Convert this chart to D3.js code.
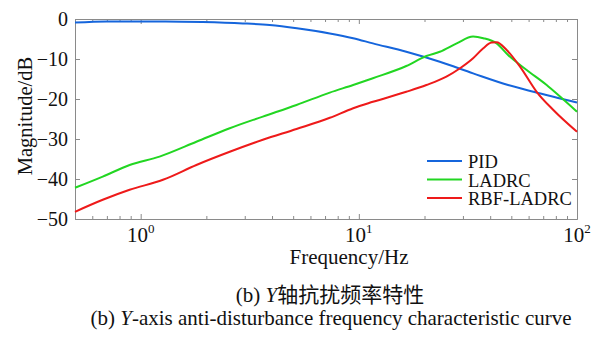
<!DOCTYPE html>
<html>
<head>
<meta charset="utf-8">
<script src="https://cdn.jsdelivr.net/npm/d3@7"></script>
<style>
  body { margin: 0; background: #fff; }
  svg { display: block; }
  svg text { font-family: "Liberation Serif", "Times New Roman", Tinos, "DejaVu Serif", "Noto Sans CJK SC", serif; }
</style>
</head>
<body>
<div id="chart"></div>
<script>
// Series values (frequency in Hz, magnitude in dB).
const pidFreq = [0.5, 0.7, 0.89, 1.3, 1.92, 2.94, 3.9, 5.2, 7.36, 9.42, 11.6, 16.5, 23.5, 33.4, 48.3, 63.1, 100];
const pidMag = [-0.9, -0.6, -0.6, -0.6, -0.75, -1.1, -1.5, -2.3, -3.6, -4.8, -6.1, -8.2, -10.7, -13.6, -16.5, -18.2, -20.9];

const ladrcFreq = [0.5, 0.67, 0.89, 1.22, 1.8, 2.56, 3.63, 5.18, 7.36, 9.42, 11.6, 16.5, 20.4, 23.5, 28.1, 33.4, 37.2, 42.8, 48.3, 58.8, 72.6, 83.6, 100];
const ladrcMag = [-42.2, -39.4, -36.5, -34.4, -30.7, -27.3, -24.4, -21.5, -18.4, -16.5, -14.8, -11.75, -9.25, -8.2, -6.1, -4.4, -4.8, -6.1, -9, -12.75, -16.5, -19.4, -23.2];

const rbfFreq = [0.5, 0.67, 0.89, 1.265, 1.8, 2.56, 3.63, 5.18, 7.36, 9.42, 11.6, 16.5, 20.4, 25.2, 29.1, 33.4, 37.2, 40.6, 42.8, 47.6, 54.8, 65.3, 77.9, 100];
const rbfMag = [-48.2, -45.2, -42.7, -40.2, -36.5, -33.2, -30.2, -27.5, -24.7, -22.3, -20.7, -18.2, -16.5, -14.4, -12.3, -9.8, -7.3, -5.9, -5.8, -7.75, -11.9, -18.2, -22.75, -28.2];

const seriesNames = ["PID", "LADRC", "RBF-LADRC"];
const seriesColors = ["#1565dc", "#22d622", "#ee1a1a"];

const yTicks = [0, -10, -20, -30, -40, -50];
const xMajor = [1, 10, 100];
const xMinor = [0.6, 0.7, 0.8, 0.9, 2, 3, 4, 5, 6, 7, 8, 9, 20, 30, 40, 50, 60, 70, 80, 90];
const xExponents = ["0", "1", "2"];

const xLabel = "Frequency/Hz";
const yLabel = "Magnitude/dB";
const captionCn = "轴抗扰频率特性";
const captionEn = "-axis anti-disturbance frequency characteristic curve";

function createChart(width, height) {
    const marginTop = 19;
    const marginRight = 17;
    const marginBottom = 119;
    const marginLeft = 75;

    const x = d3.scaleLog()
        .domain([0.5, 100])
        .range([marginLeft, width - marginRight]);

    const y = d3.scaleLinear()
        .domain([-50, 0])
        .range([height - marginBottom, marginTop]);

    const svg = d3.create("svg")
        .attr("width", width)
        .attr("height", height)
        .attr("viewBox", [0, 0, width, height]);

    const frame = "#8a8a8a";
    const bottomY = height - marginBottom;

    // Frame and inward ticks on all four sides.
    const styleAxis = g => {
        g.attr("font-family", null);
        g.select(".domain").attr("stroke", frame);
        g.selectAll(".tick line").attr("stroke", frame);
    };

    svg.append("g")
        .attr("transform", `translate(0,${bottomY})`)
        .call(d3.axisBottom(x).tickValues(xMinor).tickSize(-3).tickSizeOuter(0).tickFormat(""))
        .call(styleAxis);
    svg.append("g")
        .attr("transform", `translate(0,${bottomY})`)
        .call(d3.axisBottom(x).tickValues(xMajor).tickSize(-5).tickSizeOuter(0).tickFormat(""))
        .call(styleAxis);
    svg.append("g")
        .attr("transform", `translate(0,${marginTop})`)
        .call(d3.axisTop(x).tickValues(xMinor).tickSize(-3).tickSizeOuter(0).tickFormat(""))
        .call(styleAxis);
    svg.append("g")
        .attr("transform", `translate(0,${marginTop})`)
        .call(d3.axisTop(x).tickValues(xMajor).tickSize(-5).tickSizeOuter(0).tickFormat(""))
        .call(styleAxis);

    svg.append("g")
        .attr("transform", `translate(${marginLeft},0)`)
        .call(d3.axisLeft(y).tickValues(yTicks).tickSize(-5).tickSizeOuter(0).tickPadding(7))
        .call(styleAxis)
        .call(g => g.selectAll(".tick text")
            .attr("font-size", 20)
            .attr("fill", "#111"));
    svg.append("g")
        .attr("transform", `translate(${width - marginRight},0)`)
        .call(d3.axisRight(y).tickValues(yTicks).tickSize(-5).tickSizeOuter(0).tickFormat(""))
        .call(styleAxis);

    // Log decade labels with superscript exponent.
    const xt = svg.append("g").attr("fill", "#111");
    xMajor.forEach((v, i) => {
        const t = xt.append("text")
            .attr("x", x(v))
            .attr("y", bottomY + 23)
            .attr("text-anchor", "middle")
            .attr("font-size", 21);
        t.append("tspan").text("10");
        t.append("tspan").attr("dy", -9).attr("font-size", 13).text(xExponents[i]);
    });

    // Lines.
    const line = d3.line()
        .x(d => x(d[0]))
        .y(d => y(d[1]))
        .curve(d3.curveMonotoneX);

    const data = [
        d3.zip(pidFreq, pidMag),
        d3.zip(ladrcFreq, ladrcMag),
        d3.zip(rbfFreq, rbfMag)
    ];

    data.forEach((d, i) => {
        svg.append("path")
            .datum(d)
            .attr("fill", "none")
            .attr("stroke", seriesColors[i])
            .attr("stroke-width", 2)
            .attr("stroke-linejoin", "round")
            .attr("d", line);
    });

    // Legend.
    const legend = svg.selectAll(".legend")
        .data(seriesNames)
        .join("g")
        .attr("class", "legend")
        .attr("transform", (d, i) => `translate(427,${161 + i * 18.5})`);
    legend.append("line")
        .attr("x2", 35)
        .attr("stroke", (d, i) => seriesColors[i])
        .attr("stroke-width", 2);
    legend.append("text")
        .attr("x", 41)
        .attr("y", 7)
        .attr("font-size", 18.5)
        .attr("fill", "#111")
        .text(d => d);

    // Axis titles.
    svg.append("text")
        .attr("x", (marginLeft + width - marginRight) / 2 + 23)
        .attr("y", bottomY + 45)
        .attr("text-anchor", "middle")
        .attr("font-size", 21)
        .attr("fill", "#111")
        .text(xLabel);

    svg.append("text")
        .attr("transform", `translate(32,${(marginTop + bottomY) / 2 - 3}) rotate(-90)`)
        .attr("text-anchor", "middle")
        .attr("font-size", 20.5)
        .attr("fill", "#111")
        .text(yLabel);

    // Captions.
    const c1 = svg.append("text")
        .attr("x", 330)
        .attr("y", bottomY + 83)
        .attr("text-anchor", "middle")
        .attr("font-size", 21)
        .attr("fill", "#111");
    c1.append("tspan").text("(b) ");
    c1.append("tspan").attr("font-style", "italic").text("Y");
    c1.append("tspan").text(captionCn);

    const c2 = svg.append("text")
        .attr("x", 331)
        .attr("y", bottomY + 106)
        .attr("text-anchor", "middle")
        .attr("font-size", 21)
        .attr("fill", "#111");
    c2.append("tspan").text("(b) ");
    c2.append("tspan").attr("font-style", "italic").text("Y");
    c2.append("tspan").text(captionEn);

    return svg.node();
}

document.getElementById("chart").appendChild(createChart(594, 338));
</script>
</body>
</html>
